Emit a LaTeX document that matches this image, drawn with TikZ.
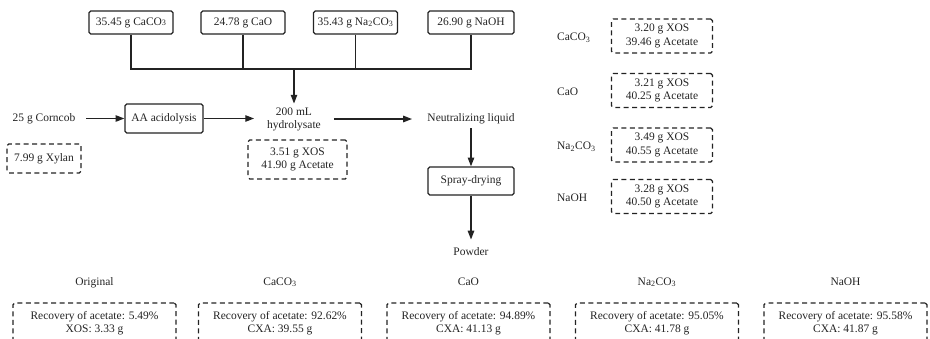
\documentclass[tikz,border=0pt]{standalone}
\usepackage{fontspec}
\setmainfont{Liberation Serif}
\usetikzlibrary{arrows.meta, positioning}
\definecolor{flowInk}{RGB}{35,35,35}

\begin{document}
\begin{tikzpicture}[x=0.03cm, y=-0.03cm,
    every node/.style={font=\fontsize{9.8}{11.5}\selectfont, text=flowInk},
    solidbox/.style={draw=flowInk, line width=1.1pt, rounded corners=1.5pt},
    dashbox/.style={draw=flowInk, line width=1.1pt, dash pattern=on 4.2pt off 3pt, rounded corners=1.5pt, align=center},
    flow/.style={draw=flowInk, line width=1.1pt, -{Triangle[length=7.5pt,width=5.5pt]}},
    bus/.style={draw=flowInk, line width=1.1pt}]
  \useasboundingbox (0,0) rectangle (930,338);
  % alkali inputs
  \node[solidbox, minimum width=2.52cm, minimum height=0.69cm] (caco3) at (131,22.5) {35.45 g CaCO{\scriptsize 3}};
  \node[solidbox, minimum width=2.52cm, minimum height=0.69cm] (cao) at (243,22.5) {24.78 g CaO};
  \node[solidbox, minimum width=2.52cm, minimum height=0.69cm] (naco) at (355.5,22.5) {35.43 g Na\textsubscript{2}CO\textsubscript{3}};
  \node[solidbox, minimum width=2.58cm, minimum height=0.69cm] (naoh) at (471,22.5) {26.90 g NaOH};
  \coordinate (junc) at (294,69);
  \draw[bus] (caco3.south) |- (naoh.south |- junc) -- (naoh.south);
  \draw[bus] (cao.south) -- (cao.south |- junc);
  \draw[bus] (naco.south) -- (naco.south |- junc);
  % main line
  \node[inner xsep=9pt] (corn) at (44,118.5) {25 g Corncob};
  \node[solidbox, minimum width=2.34cm, minimum height=0.87cm] (aa) at (164,118.5) {AA acidolysis};
  \node[align=center, inner xsep=11pt] (hyd) at (294,119.5) {200 mL\\hydrolysate};
  \node[inner xsep=13pt] (neut) at (471,119) {Neutralizing liquid};
  \node[solidbox, minimum width=2.58cm, minimum height=0.84cm] (spray) at (471,181) {Spray-drying};
  \node[inner ysep=7pt] (powder) at (471,252) {Powder};
  \draw[flow] (junc) -- (hyd.north);
  \draw[flow] (corn) -- (aa);
  \draw[flow] (aa.east) -- (aa.east -| hyd.west);
  \draw[flow] (hyd.east |- neut) -- (neut.west);
  \draw[flow] (neut) -- (spray);
  \draw[flow] (spray) -- (powder);
  \node[dashbox, minimum width=2.22cm, minimum height=0.87cm] (xylan) at (44,158.5) {7.99 g Xylan};
  \node[dashbox, minimum width=2.97cm, minimum height=1.17cm] (hydval) at (297.5,159.5) {3.51 g XOS\\41.90 g Acetate};
  % neutralized liquids
  \foreach \nm/\lab/\y/\xos/\ac in {rcaco/CaCO\textsubscript{3}/36/3.20/39.46, rcao/CaO/90.5/3.21/40.25,
      rnaco/Na\textsubscript{2}CO\textsubscript{3}/145/3.49/40.55, rnaoh/NaOH/196.5/3.28/40.50}{
    \node[anchor=west] (\nm-lab) at (553,\y+1.5) {\lab};
    \node[dashbox, minimum width=3.03cm, minimum height=1.02cm] (\nm-box) at (662,\y) {\xos\ g XOS\\\ac\ g Acetate};
  }
  % recovery results
  \foreach \nm/\x/\lab/\rec/\res in {orig/94.5/Original/5.49/XOS: 3.33 g, bcaco/280/CaCO\textsubscript{3}/92.62/CXA: 39.55 g,
      bcao/468.5/CaO/94.89/CXA: 41.13 g, bnaco/657/Na\textsubscript{2}CO\textsubscript{3}/95.05/CXA: 41.78 g,
      bnaoh/845.5/NaOH/95.58/CXA: 41.87 g}{
    \node[anchor=base] (\nm-lab) at (\x,285) {\lab};
    \node[dashbox, minimum width=4.89cm, minimum height=1.2cm] (\nm-box) at (\x,323) {Recovery of acetate: \rec\%\\\res};
  }
\end{tikzpicture}
\end{document}
